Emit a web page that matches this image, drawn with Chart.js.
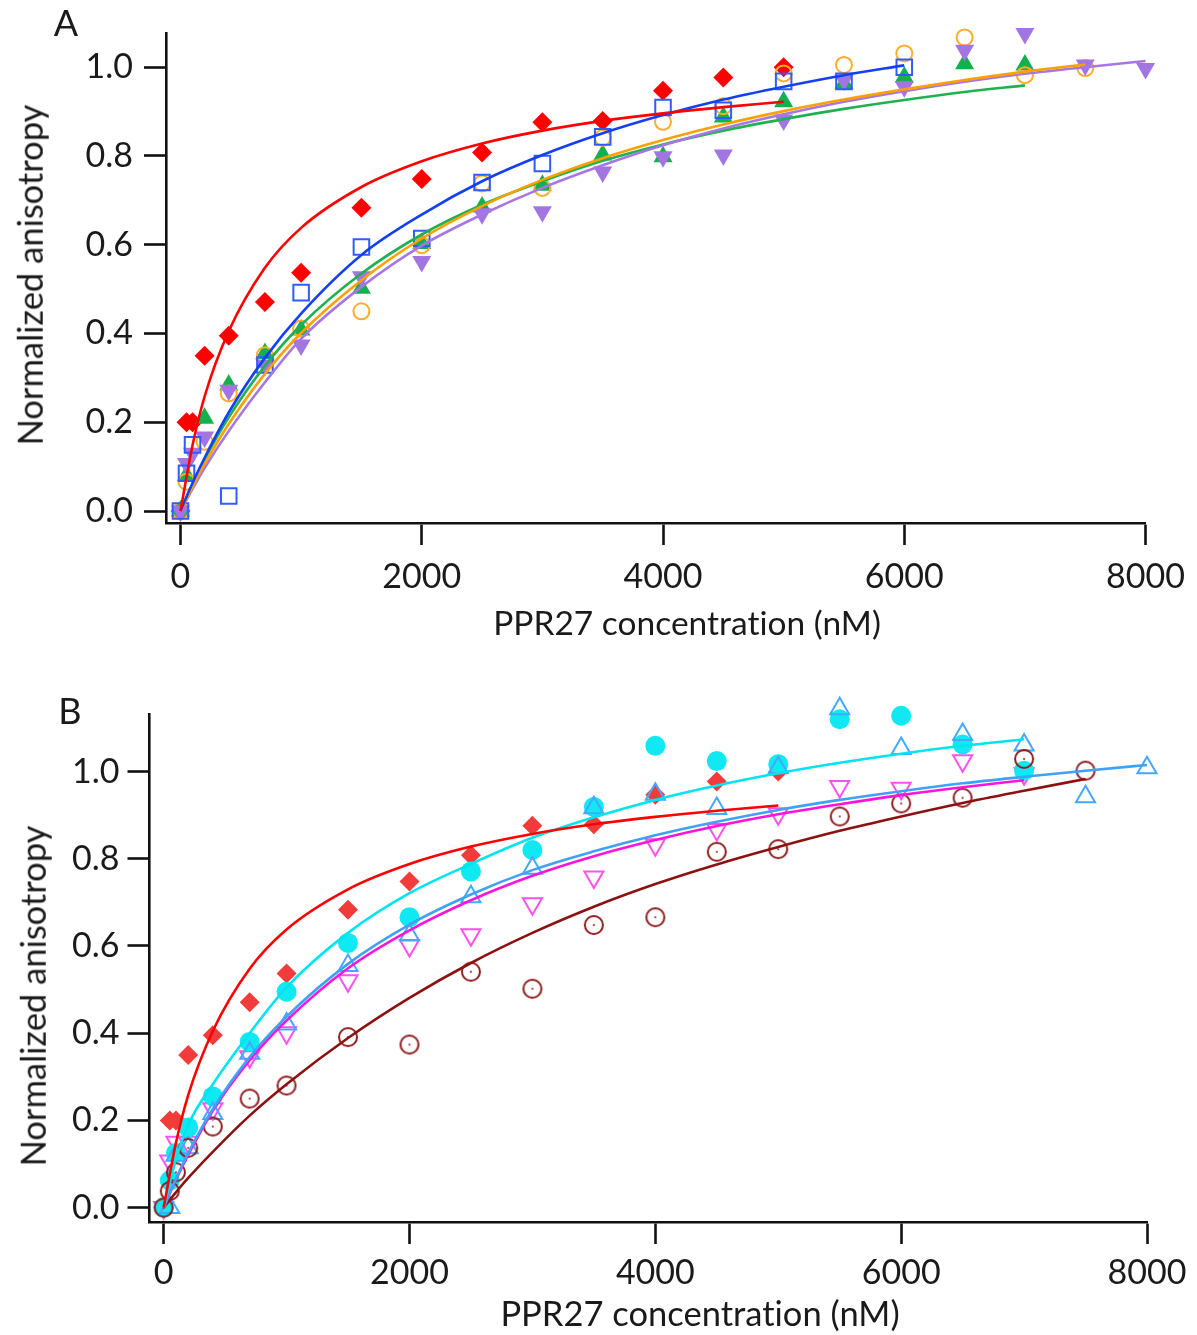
<!DOCTYPE html>
<html>
<head>
<meta charset="utf-8">
<script src="https://cdn.jsdelivr.net/npm/chart.js@4.4.1/dist/chart.umd.min.js"></script>
<style>
  body { margin: 0; background: #fff; width: 1197px; height: 1335px; position: relative; overflow: hidden; font-family: Lato, sans-serif; color: #1a1a1a; }
  canvas { position: absolute; left: 0; }
  .lbl { position: absolute; white-space: nowrap; line-height: 1; transform: translate(-50%, -50%); font-variant-ligatures: none; font-feature-settings: "liga" 0; }
  .rot { transform: translate(-50%, -50%) rotate(-90deg); }
</style>
</head>
<body>
<canvas id="chartA" width="1197" height="650" style="top:0"></canvas>
<canvas id="chartB" width="1197" height="685" style="top:650px"></canvas>

<div class="lbl" style="left:66px;top:22px;font-size:36px">A</div>
<div class="lbl rot" style="left:30px;top:275px;font-size:34.5px">Normalized anisotropy</div>
<div class="lbl" style="left:687px;top:623px;font-size:33.5px">PPR27 concentration (nM)</div>

<div class="lbl" style="left:70px;top:710px;font-size:36px">B</div>
<div class="lbl rot" style="left:33px;top:996px;font-size:34.5px">Normalized anisotropy</div>
<div class="lbl" style="left:700px;top:1313px;font-size:34.5px">PPR27 concentration (nM)</div>

<script>
// axis ticks
const xTicks = [0, 2000, 4000, 6000, 8000];
const yTicks = [0, 0.2, 0.4, 0.6, 0.8, 1.0];

// x grid the fitted curves are sampled on
const fitX = [0, 100, 200, 400, 700, 1000, 1500, 2000, 2500, 3000, 3500, 4000, 4500, 5000, 5500, 6000, 6500, 7000, 7500, 8000];

// reference protein (shown in both panels)
const redX = [0, 50, 100, 200, 400, 700, 1000, 1500, 2000, 2500, 3000, 3500, 4000, 4500, 5000];
const redY = [0, 0.20, 0.20, 0.35, 0.395, 0.471, 0.537, 0.683, 0.748, 0.808, 0.876, 0.879, 0.947, 0.977, 1.0];
const redFit = [0, 0.148, 0.258, 0.405, 0.548, 0.638, 0.73, 0.788, 0.828, 0.857, 0.879, 0.896, 0.91, 0.922];

// panel A
const blueX = [0, 50, 100, 400, 700, 1000, 1500, 2000, 2500, 3000, 3500, 4000, 4500, 5000, 5500, 6000];
const blueY = [0, 0.085, 0.149, 0.034, 0.329, 0.492, 0.595, 0.614, 0.740, 0.783, 0.843, 0.909, 0.903, 0.968, 0.968, 1.0];
const blueFit = [0, 0.063, 0.12, 0.222, 0.345, 0.445, 0.577, 0.668, 0.743, 0.802, 0.851, 0.892, 0.927, 0.956, 0.982, 1.004];

const greenX = [0, 50, 200, 400, 700, 1000, 1500, 2000, 2500, 3000, 3500, 4000, 4500, 5000, 5500, 6000, 6500, 7000];
const greenY = [0, 0.08, 0.209, 0.284, 0.355, 0.408, 0.502, 0.603, 0.685, 0.734, 0.802, 0.798, 0.888, 0.922, 0.963, 0.978, 1.008, 1.005];
const greenFit = [0, 0.061, 0.116, 0.211, 0.327, 0.419, 0.535, 0.623, 0.69, 0.743, 0.789, 0.826, 0.857, 0.883, 0.906, 0.926, 0.944, 0.959];

const orangeX = [0, 50, 200, 400, 700, 1000, 1500, 2000, 2500, 3000, 3500, 4000, 4500, 5000, 5500, 6000, 6500, 7000, 7500];
const orangeY = [0, 0.066, 0.156, 0.265, 0.351, 0.411, 0.450, 0.599, 0.738, 0.728, 0.841, 0.877, 0.912, 0.986, 1.005, 1.031, 1.067, 0.982, 0.998];
const orangeFit = [0, 0.055, 0.106, 0.196, 0.309, 0.401, 0.52, 0.614, 0.687, 0.746, 0.795, 0.836, 0.871, 0.901, 0.927, 0.95, 0.971, 0.99, 1.006];

const purpleX = [0, 50, 100, 200, 400, 700, 1000, 1500, 2000, 2500, 3000, 3500, 4000, 4500, 5000, 5500, 6000, 6500, 7000, 7500, 8000];
const purpleY = [0, 0.107, 0.13, 0.167, 0.272, 0.329, 0.374, 0.528, 0.562, 0.670, 0.674, 0.764, 0.798, 0.802, 0.881, 0.971, 0.956, 1.038, 1.076, 1.005, 0.997];
const purpleFit = [0, 0.05, 0.097, 0.18, 0.29, 0.388, 0.505, 0.598, 0.668, 0.728, 0.779, 0.824, 0.862, 0.894, 0.922, 0.946, 0.967, 0.985, 1.0, 1.014];

// panel B
const cyanX = [0, 50, 100, 200, 400, 700, 1000, 1500, 2000, 2500, 3000, 3500, 4000, 4500, 5000, 5500, 6000, 6500, 7000];
const cyanY = [0, 0.062, 0.125, 0.184, 0.255, 0.38, 0.495, 0.607, 0.666, 0.771, 0.82, 0.919, 1.059, 1.024, 1.017, 1.12, 1.128, 1.062, 1.002];
const cyanFit = [0, 0.11, 0.19, 0.283, 0.4, 0.505, 0.63, 0.721, 0.788, 0.848, 0.895, 0.935, 0.968, 0.996, 1.02, 1.041, 1.059, 1.074];

const skyX = [50, 100, 200, 400, 700, 1000, 1500, 2000, 2500, 3000, 3500, 4000, 4500, 5000, 5500, 6000, 6500, 7000, 7500, 8000];
const skyY = [0, 0.12, 0.137, 0.216, 0.354, 0.421, 0.555, 0.625, 0.713, 0.778, 0.917, 0.948, 0.915, 1.009, 1.144, 1.053, 1.085, 1.061, 0.942, 1.009];
const skyFit = [0, 0.066, 0.125, 0.226, 0.345, 0.438, 0.559, 0.649, 0.718, 0.774, 0.817, 0.854, 0.885, 0.912, 0.935, 0.955, 0.973, 0.988, 1.002, 1.015];

const magentaX = [0, 50, 100, 200, 400, 700, 1000, 1500, 2000, 2500, 3000, 3500, 4000, 4500, 5000, 5500, 6000, 6500, 7000];
const magentaY = [0, 0.107, 0.15, 0.15, 0.227, 0.346, 0.401, 0.52, 0.601, 0.626, 0.697, 0.758, 0.832, 0.867, 0.903, 0.966, 0.962, 1.025, 0.995];
const magentaFit = [0, 0.064, 0.121, 0.222, 0.338, 0.429, 0.549, 0.636, 0.705, 0.761, 0.806, 0.843, 0.875, 0.902, 0.925, 0.946, 0.964, 0.98];

const maroonX = [0, 50, 100, 200, 400, 700, 1000, 1500, 2000, 2500, 3000, 3500, 4000, 4500, 5000, 5500, 6000, 6500, 7000, 7500];
const maroonY = [0, 0.038, 0.081, 0.137, 0.186, 0.25, 0.28, 0.391, 0.374, 0.541, 0.502, 0.648, 0.666, 0.816, 0.822, 0.897, 0.927, 0.94, 1.029, 1.002];
const maroonFit = [0, 0.035, 0.068, 0.128, 0.211, 0.283, 0.389, 0.481, 0.561, 0.63, 0.69, 0.742, 0.787, 0.827, 0.864, 0.897, 0.928, 0.956, 0.983];

const FONT = 'Lato, sans-serif';

function pts(xs, ys) {
  return ys.map((y, i) => ({ x: xs[i], y }));
}

function fitLine(ys, color) {
  return {
    type: 'line',
    data: pts(fitX, ys),
    borderColor: color,
    borderWidth: 2.6,
    pointRadius: 0,
    cubicInterpolationMode: 'monotone',
    fill: false,
    clip: false
  };
}

function markers(xs, ys, opts) {
  return Object.assign({
    type: 'scatter',
    data: pts(xs, ys),
    showLine: false,
    pointBorderWidth: 2,
    pointHoverRadius: 0,
    clip: false
  }, opts);
}

// open circle with a small centre dot
function dottedCircle(color) {
  const c = document.createElement('canvas');
  c.width = 22; c.height = 22;
  const g = c.getContext('2d');
  g.strokeStyle = color;
  g.lineWidth = 2;
  g.beginPath(); g.arc(11, 11, 9, 0, Math.PI * 2); g.stroke();
  g.fillStyle = color;
  g.beginPath(); g.arc(11, 11, 1, 0, Math.PI * 2); g.fill();
  return c;
}

function axisOptions(cfg) {
  const common = {
    type: 'linear',
    grid: { display: true, drawOnChartArea: false, drawTicks: true, tickLength: 22, tickWidth: 2.6, tickColor: '#111' },
    border: { display: true, color: '#111', width: 2.6 },
  };
  return {
    x: Object.assign({}, common, {
      min: cfg.xMin, max: 8000,
      afterBuildTicks: s => { s.ticks = xTicks.map(v => ({ value: v })); },
      afterFit: s => { s.height = cfg.xHeight; },
      ticks: { color: '#1a1a1a', font: { family: FONT, size: 34 }, padding: cfg.xPad, maxRotation: 0, autoSkip: false,
               callback: v => String(v) }
    }),
    y: Object.assign({}, common, {
      min: cfg.yMin, max: cfg.yMax,
      afterBuildTicks: s => { s.ticks = yTicks.map(v => ({ value: v })); },
      afterFit: s => { s.width = cfg.yWidth; },
      ticks: { color: '#1a1a1a', font: { family: FONT, size: 34 }, padding: cfg.yPad,
               callback: v => v.toFixed(1) }
    })
  };
}

function draw(id, datasets, cfg) {
  return new Chart(document.getElementById(id), {
    data: { datasets },
    options: {
      responsive: false,
      animation: false,
      events: [],
      layout: { padding: cfg.padding },
      plugins: { legend: { display: false }, tooltip: { enabled: false } },
      scales: axisOptions(cfg)
    }
  });
}

// Panel A: curves over the markers
draw('chartA', [
  fitLine(redFit, '#ff0000'),
  fitLine(blueFit, '#1240f2'),
  fitLine(orangeFit, '#ffa000'),
  fitLine(purpleFit, '#a677e4'),
  fitLine(greenFit, '#1fb150'),
  markers(blueX, blueY, { pointStyle: 'rect', pointRadius: 11, pointBackgroundColor: 'rgba(0,0,0,0)', pointBorderColor: '#2f5cff' }),
  markers(purpleX, purpleY, { pointStyle: 'triangle', pointRotation: 180, pointRadius: 11, pointBackgroundColor: '#a375e3', pointBorderColor: '#a375e3', pointBorderWidth: 0 }),
  markers(orangeX, orangeY, { pointStyle: 'circle', pointRadius: 8, pointBackgroundColor: 'rgba(0,0,0,0)', pointBorderColor: '#ffad2a' }),
  markers(greenX, greenY, { pointStyle: 'triangle', pointRadius: 11, pointBackgroundColor: '#14b04e', pointBorderColor: '#14b04e', pointBorderWidth: 0 }),
  markers(redX, redY, { pointStyle: 'rectRot', pointRadius: 10, pointBackgroundColor: '#ff0000', pointBorderColor: '#ff0000', pointBorderWidth: 0 })
], {
  padding: { left: 0, top: 33, right: 51, bottom: 0 },
  yWidth: 166, xHeight: 650 - 523, xMin: -120, yMin: -0.027, yMax: 1.077, xPad: 12, yPad: 11
});

// Panel B
draw('chartB', [
  fitLine(redFit, '#ff0000'),
  fitLine(cyanFit, '#00e4ef'),
  fitLine(skyFit, '#3ea2f7'),
  fitLine(magentaFit, '#ff14dc'),
  fitLine(maroonFit, '#8c1212'),
  markers(maroonX, maroonY, { pointStyle: dottedCircle('#8e1c1c'), pointRadius: 10 }),
  markers(skyX, skyY, { pointStyle: 'triangle', pointRadius: 11, pointBackgroundColor: 'rgba(0,0,0,0)', pointBorderColor: '#45a8ff' }),
  markers(cyanX, cyanY, { pointStyle: 'circle', pointRadius: 10, pointBackgroundColor: '#10e8f2', pointBorderColor: '#10e8f2', pointBorderWidth: 0 }),
  markers(magentaX, magentaY, { pointStyle: 'triangle', pointRotation: 180, pointRadius: 11, pointBackgroundColor: 'rgba(0,0,0,0)', pointBorderColor: '#ff50f0' }),
  markers(redX, redY, { pointStyle: 'rectRot', pointRadius: 10, pointBackgroundColor: '#f23c3c', pointBorderColor: '#f23c3c', pointBorderWidth: 0 })
], {
  padding: { left: 0, top: 714 - 650, right: 50, bottom: 0 },
  yWidth: 149.5, xHeight: 685 - (1222 - 650), xMin: -115, yMin: -0.033, yMax: 1.132, xPad: 9, yPad: 8
});
</script>
</body>
</html>
